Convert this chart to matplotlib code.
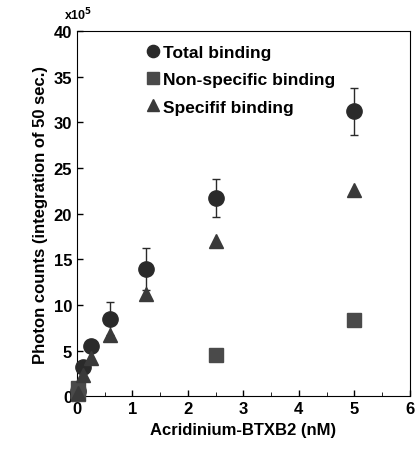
import numpy as np
import matplotlib
matplotlib.use("Agg")
import matplotlib.pyplot as plt
from matplotlib.ticker import MultipleLocator

plt.rcParams["font.family"] = ["Liberation Sans", "DejaVu Sans"]
plt.rcParams["font.weight"] = "bold"

# data (photon counts in units of 1e5)
conc = [0.02, 0.1, 0.25, 0.6, 1.25, 2.5, 5.0]
total = [0.6, 3.2, 5.5, 8.5, 13.9, 21.7, 31.2]
total_err = [0.0, 0.5, 0.6, 1.8, 2.3, 2.1, 2.6]
nonspec_x = [0.02, 0.02, 2.5, 5.0]
nonspec = [0.2, 0.9, 4.5, 8.3]
spec_x = [0.02, 0.1, 0.25, 0.6, 1.25, 2.5, 5.0]
spec = [0.3, 2.3, 4.2, 6.7, 11.2, 17.0, 22.6]

fig = plt.figure(figsize=(4.16, 4.56), dpi=100)
ax = fig.add_axes([0.185, 0.129, 0.80, 0.801])

ax.errorbar(conc, total, yerr=total_err, fmt="none", ecolor="#2a2a2a",
            capsize=3, elinewidth=1, capthick=1, zorder=2, clip_on=False)
h1, = ax.plot(conc, total, "o", color="#2a2a2a", ms=11, zorder=3, clip_on=False)
h2, = ax.plot(nonspec_x, nonspec, "s", color="#4a4a4a", ms=10, zorder=3, clip_on=False)
h3, = ax.plot(spec_x, spec, "^", color="#3a3a3a", ms=10, zorder=3, clip_on=False)

ax.set_xlim(0, 6)
ax.set_ylim(0, 40)
ax.xaxis.set_major_locator(MultipleLocator(1))
ax.xaxis.set_minor_locator(MultipleLocator(0.5))
ax.yaxis.set_major_locator(MultipleLocator(5))
ax.tick_params(direction="in", labelsize=12, width=1, length=4)
ax.tick_params(which="minor", direction="in", length=3)
for lab in ax.get_xticklabels() + ax.get_yticklabels():
    lab.set_fontweight("bold")

ax.set_xlabel("Acridinium-BTXB2 (nM)", fontsize=12, fontweight="bold")
ax.set_ylabel("Photon counts (integration of 50 sec.)", fontsize=12, fontweight="bold")
fig.text(0.155, 0.955, r"x10$^{5}$", fontsize=9, fontweight="bold")

leg = ax.legend([h1, h2, h3], ["Total binding", "Non-specific binding", "Specifif binding"],
                loc="upper left", bbox_to_anchor=(0.16, 1.0), frameon=False,
                fontsize=12.5, handletextpad=0.1, handlelength=1.0, borderaxespad=0.4,
                labelspacing=0.7, markerscale=0.8)
for t in leg.get_texts():
    t.set_fontweight("bold")

fig.savefig("out.png", dpi=100)
